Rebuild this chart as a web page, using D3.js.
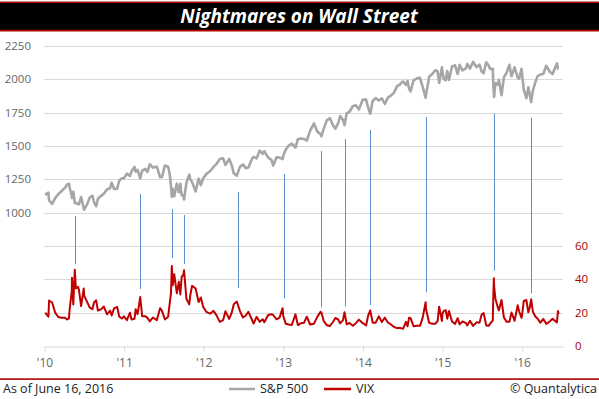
<!DOCTYPE html>
<meta charset="utf-8">
<script src="https://d3js.org/d3.v7.min.js"></script>
<style>
  body { margin: 0; background: #fff; }
  text { font-family: "Open Sans", "Noto Sans", sans-serif; }
</style>
<body>
<div id="chart"></div>
<script>
// sample dates shared by both series
var dates = [
  "2010-01-04","2010-01-19","2010-01-22","2010-02-05","2010-02-19","2010-03-05","2010-03-19","2010-04-05","2010-04-15","2010-04-23",
  "2010-04-27","2010-05-06","2010-05-07","2010-05-13","2010-05-20","2010-05-25","2010-06-04","2010-06-08","2010-06-18","2010-06-30",
  "2010-07-02","2010-07-16","2010-07-27","2010-08-09","2010-08-16","2010-08-26","2010-09-03","2010-09-17","2010-09-30","2010-10-15",
  "2010-10-29","2010-11-05","2010-11-16","2010-11-30","2010-12-10","2010-12-22","2010-12-31",
  "2011-01-14","2011-01-28","2011-02-04","2011-02-18","2011-02-23","2011-03-04","2011-03-16","2011-03-25","2011-04-08","2011-04-18",
  "2011-04-29","2011-05-13","2011-05-31","2011-06-15","2011-06-24","2011-07-07","2011-07-22","2011-07-29","2011-08-04","2011-08-08",
  "2011-08-10","2011-08-12","2011-08-19","2011-08-31","2011-09-09","2011-09-16","2011-09-22","2011-09-30","2011-10-03","2011-10-14",
  "2011-10-27","2011-10-31","2011-11-09","2011-11-25","2011-12-09","2011-12-19","2011-12-30",
  "2012-01-13","2012-01-31","2012-02-15","2012-02-29","2012-03-15","2012-03-30","2012-04-10","2012-04-27","2012-05-09","2012-05-18",
  "2012-06-01","2012-06-15","2012-06-29","2012-07-12","2012-07-24","2012-08-10","2012-08-17","2012-08-31","2012-09-14","2012-09-28",
  "2012-10-05","2012-10-23","2012-11-07","2012-11-15","2012-11-30","2012-12-14","2012-12-28","2012-12-31",
  "2013-01-11","2013-01-25","2013-02-08","2013-02-25","2013-03-08","2013-03-22","2013-04-05","2013-04-18","2013-05-03","2013-05-21",
  "2013-06-05","2013-06-20","2013-06-24","2013-07-05","2013-07-19","2013-08-02","2013-08-16","2013-08-27","2013-09-09","2013-09-18",
  "2013-10-01","2013-10-08","2013-10-18","2013-10-31","2013-11-15","2013-11-29","2013-12-13","2013-12-31",
  "2014-01-15","2014-01-24","2014-02-03","2014-02-14","2014-02-28","2014-03-14","2014-03-28","2014-04-11","2014-04-25","2014-05-09",
  "2014-05-23","2014-06-06","2014-06-20","2014-07-03","2014-07-17","2014-07-24","2014-07-31","2014-08-07","2014-08-21","2014-09-05",
  "2014-09-19","2014-10-01","2014-10-15","2014-10-17","2014-10-31","2014-11-14","2014-11-28","2014-12-09","2014-12-16","2014-12-29",
  "2014-12-31",
  "2015-01-06","2015-01-15","2015-01-22","2015-01-30","2015-02-13","2015-02-27","2015-03-11","2015-03-20","2015-04-02","2015-04-17",
  "2015-04-24","2015-05-06","2015-05-21","2015-06-05","2015-06-19","2015-06-29","2015-07-08","2015-07-20","2015-07-31","2015-08-07",
  "2015-08-19","2015-08-21","2015-08-24","2015-08-25","2015-08-31","2015-09-11","2015-09-16","2015-09-28","2015-10-09","2015-10-22",
  "2015-11-03","2015-11-13","2015-11-27","2015-12-11","2015-12-18","2015-12-29","2015-12-31",
  "2016-01-08","2016-01-20","2016-01-29","2016-02-05","2016-02-11","2016-02-19","2016-03-01","2016-03-11","2016-03-24","2016-04-07",
  "2016-04-20","2016-05-06","2016-05-19","2016-06-08","2016-06-13","2016-06-16"
]

var spx = [
  1133,1150,1092,1066,1109,1138,1160,1187,1211,1217,
  1183,1128,1110,1157,1071,1074,1065,1062,1117,1031,
  1022,1065,1113,1127,1079,1048,1104,1126,1141,1176,
  1183,1225,1178,1180,1240,1258,1258,
  1293,1276,1310,1343,1307,1321,1257,1314,1329,1305,
  1364,1338,1345,1266,1268,1353,1345,1292,1200,1119,
  1121,1179,1124,1219,1154,1216,1130,1131,1099,1225,
  1285,1253,1229,1159,1255,1206,1258,
  1289,1312,1343,1366,1403,1408,1358,1403,1354,1295,
  1278,1343,1362,1334,1338,1405,1418,1407,1466,1441,
  1461,1413,1395,1353,1416,1413,1402,1426,
  1472,1503,1518,1488,1551,1556,1553,1541,1614,1669,
  1609,1588,1573,1632,1692,1709,1655,1630,1671,1725,
  1695,1656,1745,1757,1798,1806,1775,1848,
  1848,1790,1742,1838,1859,1841,1857,1815,1863,1878,
  1900,1949,1963,1985,1958,1988,1931,1910,1993,2008,
  2011,1946,1862,1887,2018,2040,2068,2059,1973,2090,
  2059,
  2003,1993,2063,1995,2097,2105,2040,2108,2067,2081,
  2117,2080,2131,2092,2110,2058,2046,2128,2104,2078,
  2079,1971,1893,1868,1972,1961,1996,1881,2015,2052,
  2109,2023,2090,2012,2006,2078,2044,
  1922,1859,1940,1880,1829,1918,1978,2022,2036,2041,
  2102,2057,2040,2119,2079,2077
]

var vix = [
  20.0,17.6,27.3,26.1,20.0,17.4,16.9,17.0,15.9,16.6,
  22.8,32.8,40.9,24.9,45.8,34.6,35.5,33.7,23.9,34.5,
  30.1,26.3,23.2,22.1,26.1,27.4,21.3,22.0,23.7,19.0,
  21.2,18.3,22.6,23.5,17.6,16.5,17.8,
  15.5,20.0,15.9,16.4,22.1,19.1,29.4,17.9,17.9,16.9,
  14.8,17.1,15.5,22.7,21.1,15.9,17.5,25.3,31.7,48.0,
  42.9,36.4,43.1,31.6,38.5,30.9,41.3,42.9,45.5,28.2,
  25.0,30.0,36.2,34.5,26.4,29.1,23.4,
  20.5,19.4,21.1,18.4,14.5,15.5,20.8,16.3,20.1,25.1,
  26.7,21.1,17.1,18.3,20.5,15.6,13.5,17.5,14.5,16.0,
  14.3,18.6,19.1,18.6,16.0,17.0,22.7,18.0,
  13.4,12.9,12.6,19.0,12.6,13.6,13.9,17.6,12.9,13.4,
  17.5,20.5,20.1,14.9,12.5,12.0,14.4,16.8,15.9,13.6,
  15.5,20.3,13.0,13.8,12.2,13.7,15.8,13.7,
  12.3,18.1,21.4,14.0,14.0,17.8,14.4,17.0,14.1,12.9,
  11.4,10.7,10.9,10.3,14.5,11.8,17.0,16.7,11.8,12.1,
  12.1,16.7,26.3,22.0,14.0,13.3,13.3,15.0,23.6,15.0,
  19.2,
  21.1,21.5,16.4,21.0,14.7,13.3,16.7,13.0,14.7,13.9,
  12.3,15.1,12.1,14.2,14.0,18.9,19.7,12.3,12.1,13.4,
  15.3,28.0,40.7,36.0,28.4,23.2,21.4,27.6,17.1,14.5,
  14.5,20.1,15.1,24.4,20.7,16.9,18.2,
  27.0,27.6,20.2,23.4,28.1,20.5,17.7,16.5,14.0,16.2,
  13.3,14.7,16.3,14.1,21.0,19.4
]

// marked sell-offs: date, S&P level at top of marker, VIX level at bottom
var eventDates = ["2010-05-21","2011-03-17","2011-08-10","2011-10-04","2012-06-05","2013-01-03",
                  "2013-06-24","2013-10-09","2014-02-04","2014-10-16","2015-08-24","2016-02-11"]
var eventSpx = [975,1140,1027,982,1155,1290,1462,1552,1620,1717,1742,1712]
var eventVix = [49.2,34.2,52.8,49.2,34.8,28.6,23.2,23.6,24.6,32.2,45.2,31.6]

var spxTicks = [1000,1250,1500,1750,2000,2250]
var vixTicks = [0,20,40,60]

var width = 599, height = 399

var parse = d3.timeParse("%Y-%m-%d")

var svg = d3.select("#chart").append("svg")
  .attr("width", width)
  .attr("height", height)

// title bar
svg.append("rect").attr("x", 0).attr("y", 1.5).attr("width", width).attr("height", 30).attr("fill", "#b00000")
svg.append("rect").attr("x", 0).attr("y", 3).attr("width", width).attr("height", 26.7).attr("fill", "#000")
svg.append("text")
  .attr("x", 299).attr("y", 23.3)
  .attr("text-anchor", "middle")
  .attr("fill", "#fff")
  .style("font-size", "19px")
  .style("font-weight", "bold")
  .style("font-style", "italic")
  .text("Nightmares on Wall Street")

var x = d3.scaleTime()
  .domain([new Date(2010, 0, 1), new Date(2016, 6, 6)])
  .range([44.5, 563])

var ySpx = d3.scaleLinear().domain([0, 2250]).range([346, 46])
var yVix = d3.scaleLinear().domain([0, 180]).range([346, 46])

// grid
svg.append("g")
  .selectAll("line")
  .data(d3.range(250, 2251, 250))
  .enter().append("line")
  .attr("x1", x.range()[0]).attr("x2", x.range()[1])
  .attr("y1", function(d){ return Math.round(ySpx(d)) + 0.5 })
  .attr("y2", function(d){ return Math.round(ySpx(d)) + 0.5 })
  .attr("stroke", "#d9d9d9")

// x axis
var xAxis = svg.append("g")
  .attr("transform", "translate(0," + (Math.round(ySpx(0)) + 0.5) + ")")
  .call(d3.axisBottom(x)
    .ticks(d3.timeYear.every(1))
    .tickFormat(d3.timeFormat("'%y"))
    .tickSize(5)
    .tickSizeOuter(0)
    .tickPadding(7))
xAxis.select(".domain").attr("stroke", "#d9d9d9")
xAxis.selectAll(".tick line").attr("stroke", "#d9d9d9")
xAxis.selectAll(".tick text")
  .attr("fill", "#666")
  .style("font-size", "12px")
  .style("font-family", "'Open Sans', sans-serif")

// left labels
svg.append("g")
  .selectAll("text")
  .data(spxTicks)
  .enter().append("text")
  .attr("x", 31)
  .attr("y", function(d){ return ySpx(d) + 4 })
  .attr("text-anchor", "end")
  .attr("fill", "#666")
  .style("font-size", "11.5px")
  .text(function(d){ return d })

// right labels
svg.append("g")
  .selectAll("text")
  .data(vixTicks)
  .enter().append("text")
  .attr("x", 575)
  .attr("y", function(d){ return yVix(d) + 4 })
  .attr("fill", "#a50000")
  .style("font-size", "11.5px")
  .text(function(d){ return d })

var rows = dates.map(function(d, i){
  return { date: parse(d), spx: spx[i], vix: vix[i] }
})

// event markers
var events = eventDates.map(function(d, i){
  return { date: parse(d), spx: eventSpx[i], vix: eventVix[i] }
})
svg.append("g")
  .selectAll("line")
  .data(events)
  .enter().append("line")
  .attr("x1", function(d){ return Math.round(x(d.date)) + 0.5 })
  .attr("x2", function(d){ return Math.round(x(d.date)) + 0.5 })
  .attr("y1", function(d){ return ySpx(d.spx) })
  .attr("y2", function(d){ return yVix(d.vix) })
  .attr("stroke", "#5b8fd0")
  .attr("stroke-width", 1)

var spxLine = d3.line()
  .x(function(d){ return x(d.date) })
  .y(function(d){ return ySpx(d.spx) })

var vixLine = d3.line()
  .x(function(d){ return x(d.date) })
  .y(function(d){ return yVix(d.vix) })

svg.append("path")
  .datum(rows)
  .attr("d", spxLine)
  .attr("fill", "none")
  .attr("stroke", "#a6a6a6")
  .attr("stroke-width", 2.6)
  .attr("stroke-linejoin", "round")

svg.append("path")
  .datum(rows)
  .attr("d", vixLine)
  .attr("fill", "none")
  .attr("stroke", "#c00000")
  .attr("stroke-width", 2)
  .attr("stroke-linejoin", "round")

// footer
svg.append("rect").attr("x", 0).attr("y", 378.3).attr("width", width).attr("height", 1.6).attr("fill", "#b00000")

svg.append("text")
  .attr("x", 3).attr("y", 393)
  .attr("fill", "#222")
  .style("font-size", "12.5px")
  .text("As of June 16, 2016")

svg.append("line").attr("x1", 229).attr("x2", 255).attr("y1", 389).attr("y2", 389)
  .attr("stroke", "#a6a6a6").attr("stroke-width", 2.5)
svg.append("text").attr("x", 260).attr("y", 393)
  .attr("fill", "#222").style("font-size", "12.5px").text("S&P 500")

svg.append("line").attr("x1", 324).attr("x2", 351).attr("y1", 389).attr("y2", 389)
  .attr("stroke", "#c00000").attr("stroke-width", 2.5)
svg.append("text").attr("x", 356).attr("y", 393)
  .attr("fill", "#222").style("font-size", "12.5px").text("VIX")

svg.append("text")
  .attr("x", 597).attr("y", 393)
  .attr("text-anchor", "end")
  .attr("fill", "#222")
  .style("font-size", "12.5px")
  .text("© Quantalytica")
</script>
</body>
